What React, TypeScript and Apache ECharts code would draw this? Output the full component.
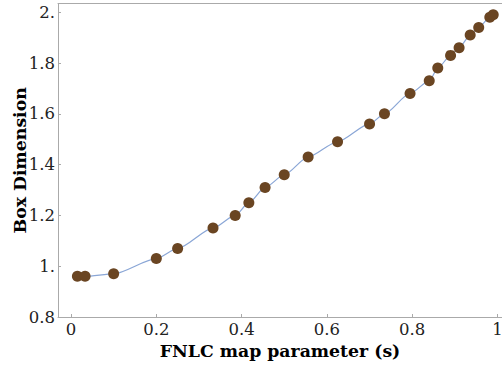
import React, { useEffect, useRef } from "react";
import * as echarts from "echarts";

const sValues = [0.015, 0.033, 0.1, 0.2, 0.25, 0.333, 0.385, 0.417, 0.455, 0.5, 0.556, 0.625, 0.7, 0.735, 0.795, 0.84, 0.86, 0.89, 0.91, 0.936, 0.956, 0.982, 0.99];
const boxDims = [0.96, 0.96, 0.97, 1.03, 1.07, 1.15, 1.2, 1.25, 1.31, 1.36, 1.43, 1.49, 1.56, 1.6, 1.68, 1.73, 1.78, 1.83, 1.86, 1.91, 1.94, 1.98, 1.99];
const xTicks = [0, 0.2, 0.4, 0.6, 0.8, 1];
const yTicks = [0.8, 1, 1.2, 1.4, 1.6, 1.8, 2];
const xTitle = "FNLC map parameter (s)";
const yTitle = "Box Dimension";

const FONT = "DejaVu Serif";
const AXIS_COLOR = "#aaaaaa";

function fmt(v: number): string {
  if (Math.abs(v - Math.round(v)) < 1e-9) return String(Math.round(v));
  return v.toFixed(1);
}

export default function App() {
  const ref = useRef<HTMLDivElement>(null);
  useEffect(() => {
    if (!ref.current) return;
    const chart = echarts.init(ref.current, null, { renderer: "svg" });
    const data = sValues.map((s, i) => [s, boxDims[i]]);
    const xMin = -0.0305;
    const xMax = 1.0106;
    chart.setOption({
      animation: false,
      backgroundColor: "#ffffff",
      grid: { left: 58, right: 0, top: 3.7, bottom: 49, containLabel: false, outerBoundsMode: "none" },
      xAxis: [
        {
          type: "value",
          min: xMin,
          max: xMax,
          position: "bottom",
          name: xTitle,
          nameLocation: "middle",
          nameGap: 24,
          nameTextStyle: { fontFamily: FONT, fontSize: 17.3, fontWeight: "bold", color: "#000" },
          axisLine: { show: true, onZero: false, lineStyle: { color: AXIS_COLOR, width: 1 } },
          axisTick: { show: true, inside: true, length: 3, customValues: xTicks, lineStyle: { color: AXIS_COLOR } },
          axisLabel: {
            show: true,
            customValues: xTicks,
            margin: 4,
            fontFamily: FONT,
            fontSize: 16.5,
            color: "#222",
            formatter: (v: number) => (Math.abs(v) < 1e-9 ? "0" : Math.abs(v - 1) < 1e-9 ? "1" : v.toFixed(1)),
          },
          splitLine: { show: false },
        },
        {
          type: "value",
          min: xMin,
          max: xMax,
          position: "top",
          axisLine: { show: true, onZero: false, lineStyle: { color: AXIS_COLOR, width: 1 } },
          axisTick: { show: false },
          axisLabel: { show: false },
          splitLine: { show: false },
        },
      ],
      yAxis: {
        type: "value",
        min: 0.8,
        max: 2.0335,
        name: yTitle,
        nameLocation: "middle",
        nameGap: 30,
        nameMoveOverlap: false,
        nameRotate: 90,
        nameTextStyle: { fontFamily: FONT, fontSize: 17.3, fontWeight: "bold", color: "#000" },
        axisLine: { show: true, onZero: false, lineStyle: { color: AXIS_COLOR, width: 1 } },
        axisTick: { show: true, inside: true, length: 3, customValues: yTicks, lineStyle: { color: AXIS_COLOR } },
        axisLabel: {
          show: true,
          customValues: yTicks,
          margin: 3,
          fontFamily: FONT,
          fontSize: 16.5,
          color: "#222",
          formatter: (v: number) => {
            const s = fmt(v);
            return s.indexOf(".") < 0 ? s + "." : s;
          },
        },
        splitLine: { show: false },
      },
      series: [
        {
          type: "line",
          data,
          smooth: 0.25,
          smoothMonotone: "x",
          symbol: "circle",
          symbolSize: 11,
          showSymbol: true,
          lineStyle: { color: "#8aa6d6", width: 1.2 },
          itemStyle: { color: "#6a4522", borderWidth: 0 },
          z: 3,
        },
      ],
    });
    return () => chart.dispose();
  }, []);
  return <div ref={ref} style={{ position: "fixed", left: 0, top: 0, width: 502, height: 366 }} />;
}
